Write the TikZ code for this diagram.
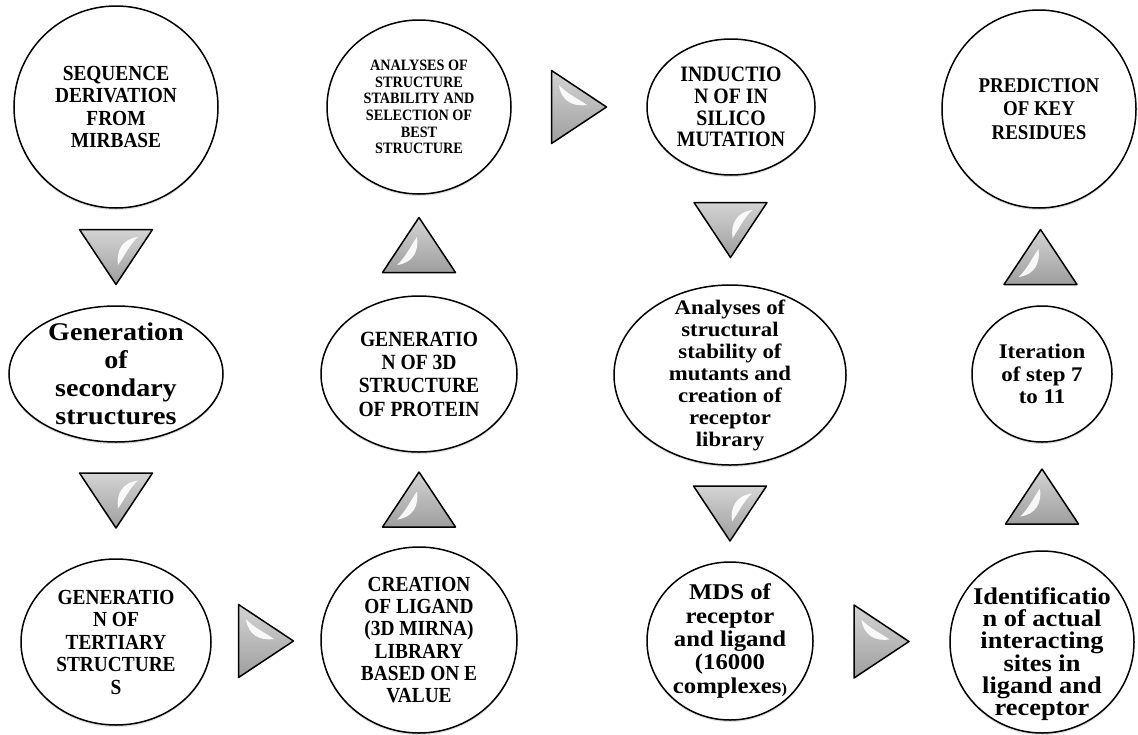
\documentclass[tikz,border=0pt]{standalone}
\usepackage{fontspec}
\setmainfont{Liberation Serif}
\newfontfamily\capsfont{Liberation Serif}[FakeStretch=0.9]
\newfontfamily\lowfont{Liberation Serif}[FakeStretch=1.1]
\usetikzlibrary{shapes.geometric,calc,shadows}

\newcommand{\pointer}[2]{%
	\begin{scope}[shift={#1},rotate=#2]
		\draw[pointerfill] (-36.5,-27.5) -- (36.5,-27.5) -- (0,27.5) -- cycle;
		\fill[white,opacity=0.9] (22,-20) .. controls (6,-18) and (0,-6) .. (2,8) .. controls (8,0) and (13,-12) .. (22,-20);
	\end{scope}}

\begin{document}
\begin{tikzpicture}[x=1pt,y=-1pt,
	bubble/.style={ellipse,draw,line width=1.5pt,fill=white,inner sep=0pt,drop shadow={opacity=0.25,shadow xshift=0pt,shadow yshift=-2pt}},
	uppertext/.style 2 args={align=center,inner sep=0pt,font=\capsfont\bfseries\fontsize{#1}{#2}\selectfont},
	lowertext/.style 2 args={align=center,inner sep=0pt,font=\lowfont\bfseries\fontsize{#1}{#2}\selectfont},
	pointerfill/.style={draw,line width=1.5pt,line join=round,top color=black!17,bottom color=black!38}]
					\fill[white] (0,0) rectangle (1138,734);
					\useasboundingbox (0,0) rectangle (1138,734);

					\node (seq) at (116,107) [bubble,minimum width=204pt,minimum height=202pt,label={[uppertext={21.5}{22.3}]center:SEQUENCE\\DERIVATION\\FROM\\MIRBASE}] {};
					\node (anal) at (419,107) [bubble,minimum width=184pt,minimum height=174pt,label={[uppertext={15.8}{16.7}]center:ANALYSES OF\\STRUCTURE\\STABILITY AND\\SELECTION OF\\BEST\\STRUCTURE}] {};
					\node (induc) at (731,107) [bubble,minimum width=168pt,minimum height=136pt,label={[uppertext={22}{21.7}]center:INDUCTIO\\N OF IN\\SILICO\\MUTATION}] {};
					\node (pred) at (1039,109) [bubble,minimum width=194pt,minimum height=198pt,label={[uppertext={21}{23.3}]center:PREDICTION\\OF KEY\\RESIDUES}] {};

					\node (gen2) at (116,374) [bubble,minimum width=214pt,minimum height=136pt,label={[lowertext={25.5}{28}]center:Generation\\of\\secondary\\structures}] {};
					\node (gen3d) at (419,374) [bubble,minimum width=196pt,minimum height=156pt,label={[uppertext={21.7}{23.3}]center:GENERATIO\\N OF 3D\\STRUCTURE\\OF PROTEIN}] {};
					\node (mutant) at (730,375) [bubble,minimum width=232pt,minimum height=180pt,label={[lowertext={20.7}{22}]center:Analyses of\\structural\\stability of\\mutants and\\creation of\\receptor\\library}] {};
					\node (iter) at (1042,374) [bubble,minimum width=140pt,minimum height=136pt,label={[lowertext={20.8}{22.7}]center:Iteration\\of step 7\\to 11}] {};

					\node (gen3) at (116,642) [bubble,minimum width=190pt,minimum height=166pt,label={[uppertext={21.5}{22.5}]center:GENERATIO\\N OF\\TERTIARY\\STRUCTURE\\S}] {};
					\node (creat) at (419,640) [bubble,minimum width=196pt,minimum height=186pt,label={[uppertext={21.5}{22.3}]center:CREATION\\OF LIGAND\\(3D MIRNA)\\LIBRARY\\BASED ON E\\VALUE}] {};
					\node (mds) at (730,641) [bubble,minimum width=166pt,minimum height=158pt,label={[lowertext={22.5}{23.3}]center:MDS of\\receptor\\and ligand\\(16000\\complexes{\fontsize{15}{15}\selectfont)}}] {};
					\node (ident) at (1042,642) [bubble,minimum width=184pt,minimum height=182pt,label={[lowertext={24}{22.3},yshift=-12pt]center:Identificatio\\n of actual\\interacting\\sites in\\ligand and\\receptor}] {};

					\pointer{($(seq.south)!0.5!(gen2.north)$)}{0}
					\pointer{($(gen2.south)!0.5!(gen3.north)$)}{0}
					\pointer{($(gen3.east)!0.5!(creat.west)$)}{90}
					\pointer{($(creat.north)!0.5!(gen3d.south)$)}{180}
					\pointer{($(gen3d.north)!0.5!(anal.south)$)}{180}
					\pointer{($(anal.east)!0.5!(induc.west)$)}{90}
					\pointer{($(induc.south)!0.5!(mutant.north)$)}{0}
					\pointer{($(mutant.south)!0.5!(mds.north)$)}{0}
					\pointer{($(mds.east)!0.5!(ident.west)$)}{90}
					\pointer{($(ident.north)!0.5!(iter.south)$)}{180}
					\pointer{($(iter.north)!0.5!(pred.south)$)}{180}
				\end{tikzpicture}
\end{document}
